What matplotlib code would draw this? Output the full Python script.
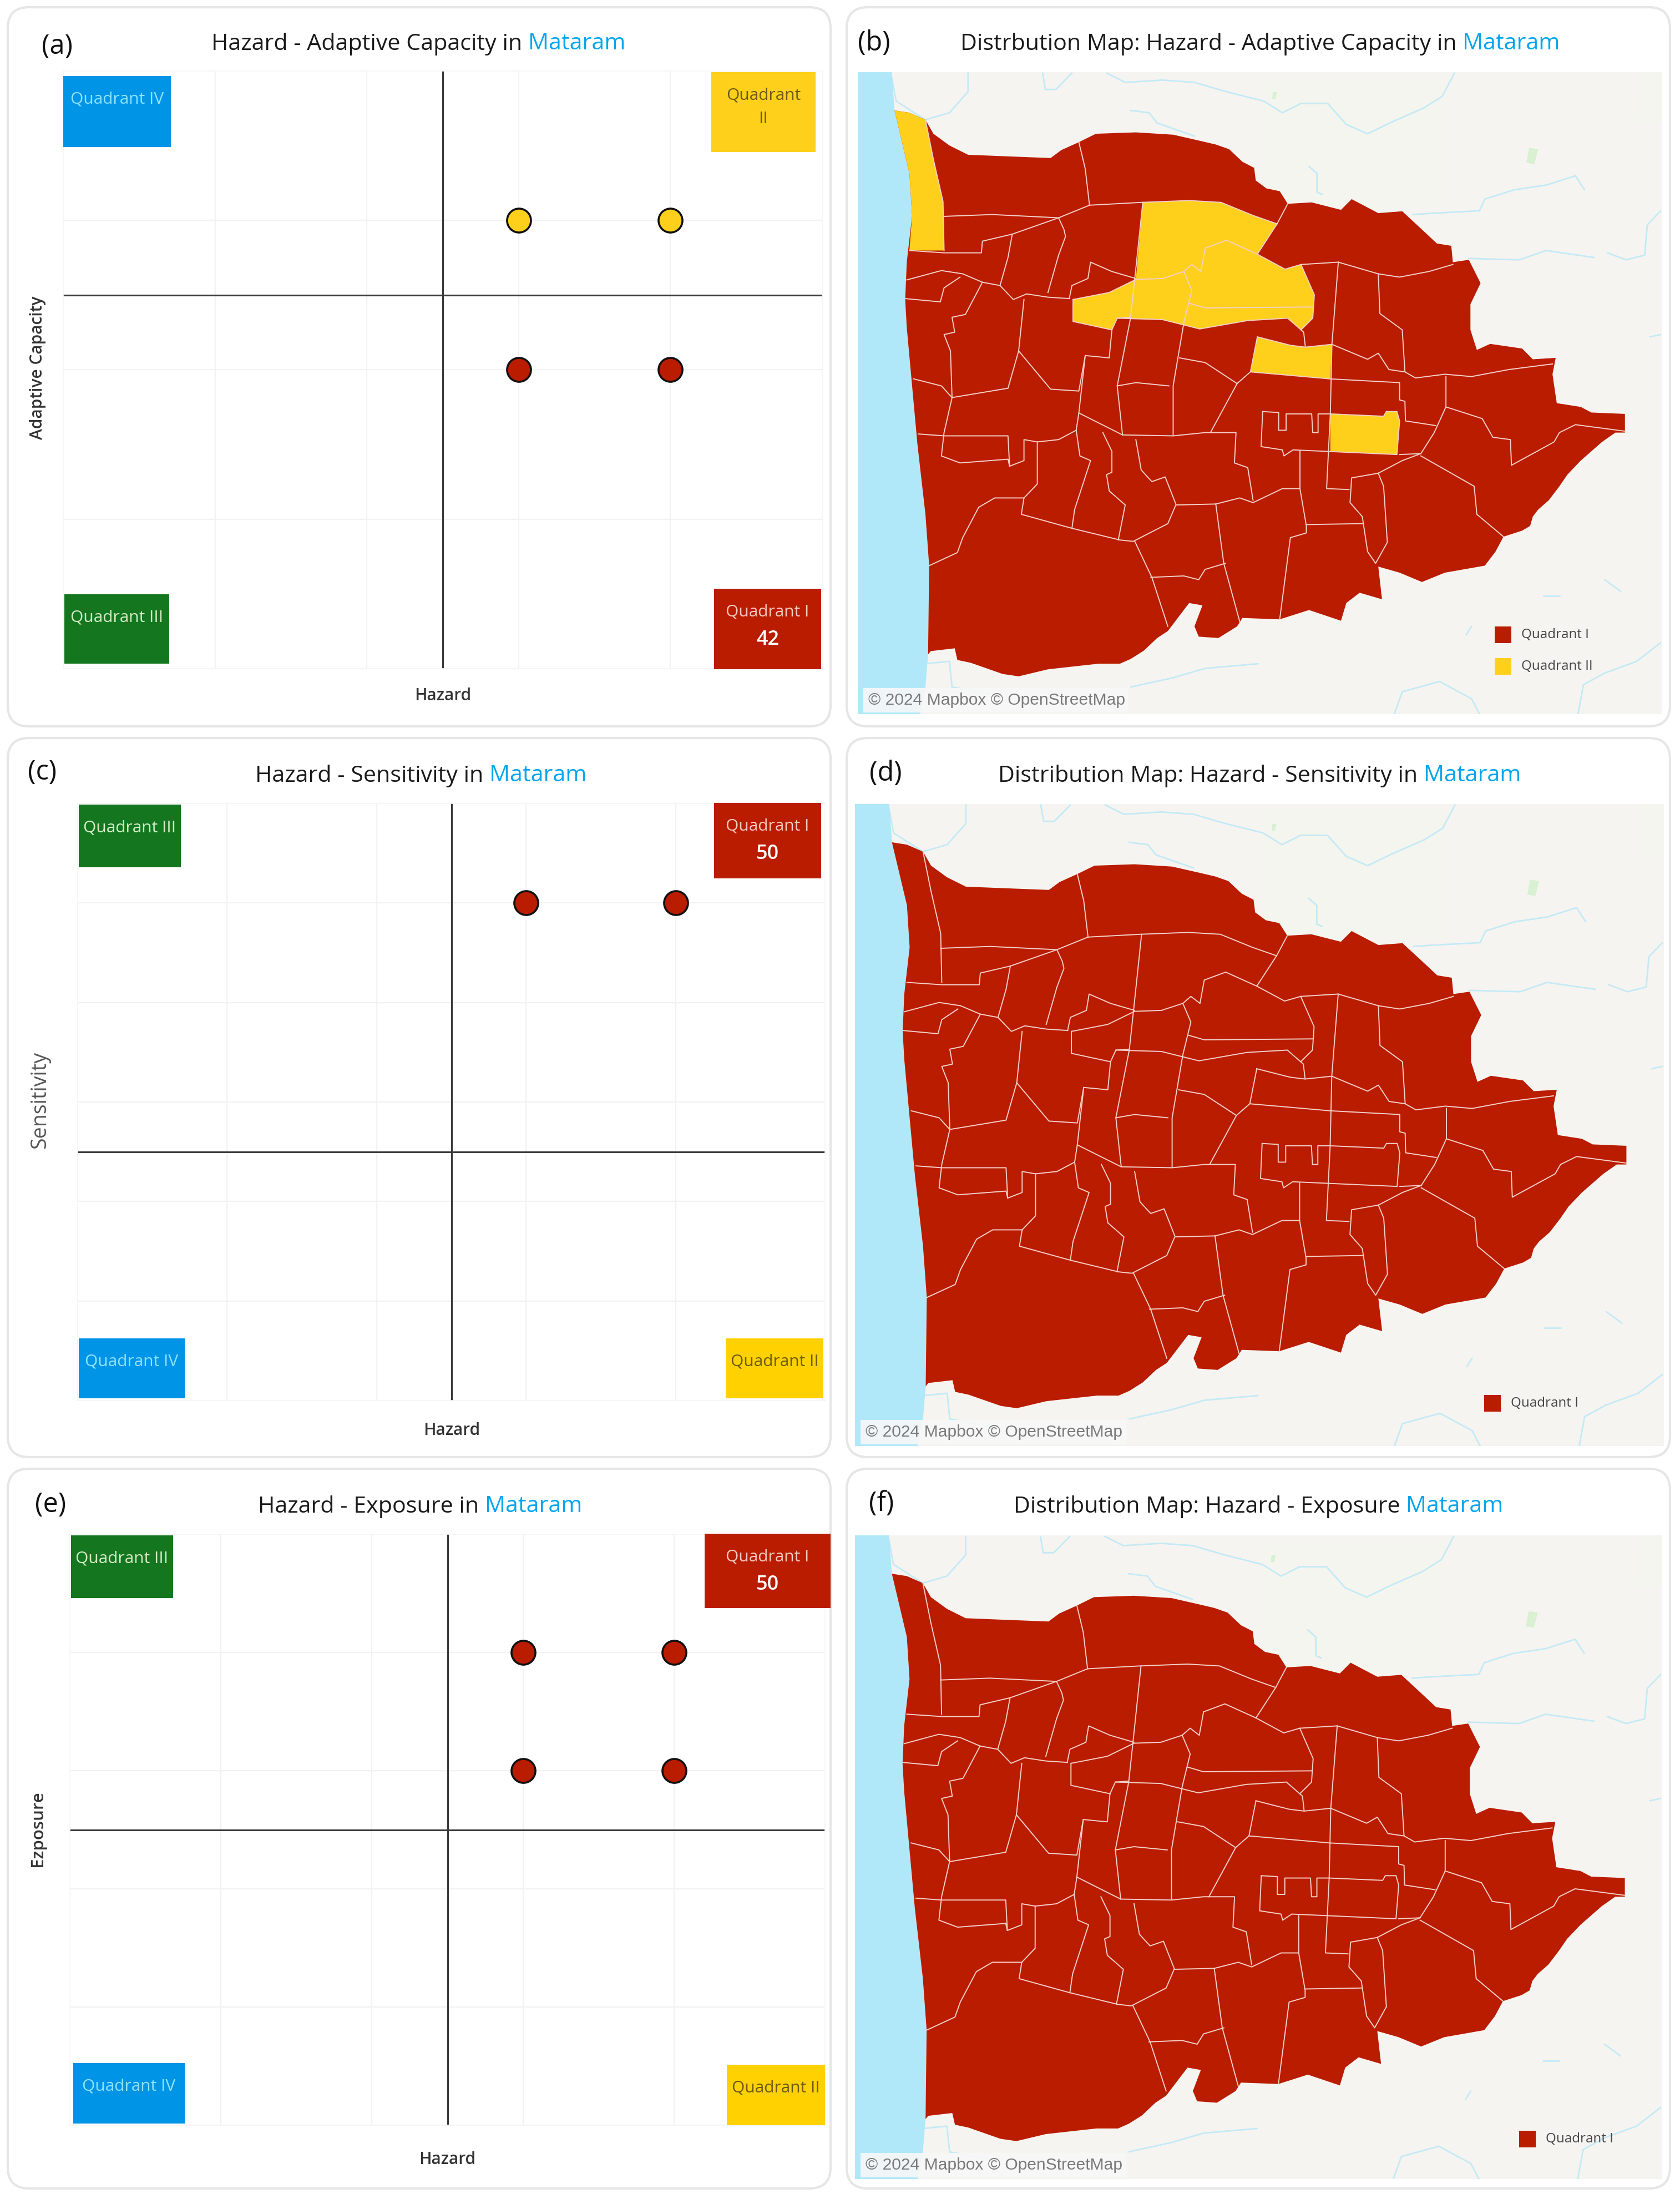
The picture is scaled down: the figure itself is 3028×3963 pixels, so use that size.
# plot.py - quadrant scatter plots and distribution maps for Mataram

import matplotlib
matplotlib.use('Agg')
import matplotlib.pyplot as plt
from matplotlib.patches import FancyBboxPatch, Polygon, Rectangle

plt.rcParams['font.family'] = ['Open Sans', 'DejaVu Sans']

# --------- DATA ----------

RED = '#BA1C00'
YELLOW = '#FED01C'
GOLD = '#FFD100'
BLUE = '#0094E6'
GREEN = '#14761E'

# hazard, y-value and colour of the points in the three scatter panels
points_a = [(3, 3, YELLOW), (4, 3, YELLOW), (3, 2, RED), (4, 2, RED)]
points_c = [(3, 5, RED), (4, 5, RED)]
points_e = [(3, 4, RED), (4, 4, RED), (3, 3, RED), (4, 3, RED)]

# map shapes (pixel-like map coordinates)
sea = [(28,153),(92,153),(97,235),(125,370),(130,460),(120,560),(117,640),(120,700),(140,950),
       (155,1100),(162,1210),(160,1400),(155,1470),(145,1528),(28,1528)]

outline = [(97,235),(125,240),(155,255),(170,285),(200,310),(235,330),(300,333),(390,337),(410,320),
           (443,303),(475,285),(550,282),(620,287),(670,300),(700,308),(725,318),(750,345),(772,358),(775,385),
           (795,402),(820,408),(835,435),(880,432),(935,448),(955,425),(1005,455),(1050,451),(1085,488),
           (1115,520),(1142,525),(1145,560),(1175,555),(1197,605),(1178,650),(1178,705),(1190,748),
           (1215,735),(1275,745),(1295,768),(1338,765),(1332,800),(1340,862),(1385,870),(1405,882),
           (1468,885),(1468,925),(1450,925),(1425,945),(1405,965),(1385,985),(1360,1015),(1345,1040),
           (1325,1070),(1305,1090),(1295,1105),(1290,1125),(1275,1135),(1240,1148),(1225,1180),(1205,1210),
           (1165,1218),(1130,1225),(1087,1245),(1045,1225),(1005,1212),(1012,1282),(970,1268),(945,1290),
           (935,1328),(875,1305),(820,1325),(750,1322),(740,1340),(705,1365),(668,1362),(660,1340),
           (675,1295),(650,1290),(610,1350),(590,1365),(565,1392),(540,1410),(520,1420),(480,1420),(440,1425),
           (385,1432),(330,1447),(300,1442),(270,1430),(240,1418),(215,1412),(210,1387),(165,1393),(160,1400),
           (162,1210),(155,1100),(140,950),(120,700),(117,640),(120,560),(130,460),(125,370)]

yellow_areas = [
    [(97,235),(125,240),(155,255),(170,340),(188,430),(190,535),(125,535),(130,460),(125,370)],
    [(563,432),(650,428),(710,432),(770,460),(815,478),(778,543),(830,575),(860,565),(885,630),
     (882,680),(860,705),(835,680),(760,685),(670,703),(600,683),(515,680),(505,705),(432,687),
     (432,640),(500,625),(550,597)],
    [(778,720),(840,738),(868,742),(918,736),(915,810),(765,795)],
    [(915,885),(1015,890),(1020,880),(1040,880),(1045,900),(1040,972),(915,965)],
]

borders = [
    [(155,255),(170,340),(188,430),(190,535)],
    [(443,303),(455,360),(463,438)],
    [(125,535),(190,540),(260,540),(262,515),(318,500),(405,465),(415,490),(418,505),(405,545),(385,625)],
    [(188,462),(280,458),(405,465),(463,438),(560,432),(650,428),(710,432),(770,460),(815,478)],
    [(835,435),(815,478),(778,543)],
    [(318,500),(310,550),(295,610),(320,640),(345,628),(385,635),(425,638)],
    [(120,598),(185,578),(225,585),(262,603),(295,610)],
    [(117,638),(183,645),(190,615),(220,592)],
    [(262,603),(230,672),(205,678),(210,710),(190,715),(202,750),(205,850),(190,925),(185,975),(220,990),
     (310,982),(313,997),(340,985),(340,940),(365,945),(405,940),(438,920)],
    [(142,928),(190,932),(310,932),(313,997)],
    [(340,640),(330,750),(310,830),(205,850)],
    [(133,810),(185,825),(205,850)],
    [(330,750),(390,832),(443,836),(455,760),(500,765),(505,705),(515,680),(540,678)],
    [(432,640),(432,687),(505,705)],
    [(425,638),(430,610),(460,595),(465,560),(505,580),(550,595)],
    [(432,640),(500,625),(550,597),(600,595),(640,580),(655,565),(672,580),(680,530),(720,513),(778,543),
     (830,575),(860,565),(885,630),(882,680),(860,705)],
    [(563,432),(548,595),(540,680),(515,825),(525,930)],
    [(640,580),(655,620),(640,690),(620,825),(620,930)],
    [(650,648),(680,658),(882,656)],
    [(515,680),(600,683),(670,703),(760,685),(835,680),(865,710),(868,740)],
    [(515,825),(550,818),(612,825)],
    [(632,765),(680,775),(740,820)],
    [(765,795),(740,820),(690,925)],
    [(778,720),(765,795),(915,810),(1045,818),(1045,855),(1055,858),(1056,900),(1113,910)],
    [(778,720),(840,738),(868,742),(918,736),(985,768),(1005,755),(1025,790),(1055,795)],
    [(860,565),(930,560),(1005,585),(1045,592),(1100,580),(1145,565)],
    [(930,560),(918,736),(915,885),(908,1045),(950,1047)],
    [(1005,585),(1008,670),(1050,705),(1055,795),(1075,808),(1130,800),(1180,805),(1250,790),(1332,778)],
    [(1132,805),(1132,870),(1110,925),(1085,970),(1050,985),(1005,1012),(955,1022),(952,1075),(975,1105),
     (985,1180),(1000,1205),(1022,1160),(1015,1040),(1005,1012)],
    [(1132,870),(1200,895),(1220,935),(1253,940),(1255,995),(1335,945),(1345,925),(1375,908),(1468,922)],
    [(1085,975),(1185,1040),(1190,1100),(1240,1148)],
    [(443,883),(525,930),(620,932),(680,925),(738,925),(735,990),(760,1000),(770,1070)],
    [(438,920),(443,883),(455,760)],
    [(365,945),(365,1035),(340,1065),(335,1100),(430,1130),(520,1155),(545,1158),(610,1120),(625,1080),
     (700,1078),(745,1065),(770,1075),(825,1045),(858,1045),(858,965)],
    [(340,1065),(285,1065),(255,1085),(225,1150),(215,1182),(162,1210)],
    [(438,920),(445,975),(465,985),(435,1090),(430,1130)],
    [(488,925),(505,965),(505,1010),(495,1015),(500,1050),(530,1080),(517,1155)],
    [(550,940),(560,1005),(580,1030),(605,1020),(625,1078)],
    [(700,1078),(715,1205),(745,1330)],
    [(858,1045),(870,1125),(870,1140),(840,1150),(820,1325)],
    [(870,1122),(975,1120)],
    [(548,1158),(580,1235),(610,1340)],
    [(578,1235),(640,1232),(668,1240),(680,1218),(718,1205)],
    [(788,880),(785,955),(825,962),(828,975),(845,962),(1040,972),(1045,900),(1040,880),(1020,880),(1015,890),(915,885)],
    [(788,880),(818,882),(818,920),(832,920),(832,885),(880,885),(882,925),(892,925),(892,885),(915,885)],
    [(1045,972),(1085,970)],
]

rivers = [
    [(495,155),(530,175),(600,170),(660,175),(720,195),(790,215),(825,240),(860,220),(910,220),(945,265),
     (985,285),(1030,260),(1090,230),(1125,205),(1148,155)],
    [(235,155),(235,195),(200,240),(155,255),(100,215),(92,165)],
    [(375,155),(380,190),(400,190),(430,155)],
    [(540,235),(575,240),(590,262),(660,290)],
    [(875,355),(890,370),(890,410),(900,415)],
    [(1070,458),(1110,455),(1195,450),(1205,425),(1260,405),(1320,395),(1375,375),(1392,405)],
    [(1175,552),(1270,555),(1320,535),(1410,550)],
    [(1435,540),(1470,555),(1505,545),(1510,480),(1535,450)],
    [(1515,720),(1535,715)],
    [(540,1470),(620,1450),(680,1430),(780,1420)],
    [(1035,1528),(1050,1480),(1120,1458),(1180,1495),(1195,1528)],
    [(1380,1528),(1390,1465),(1430,1440),(1490,1415),(1535,1375)],
    [(155,1420),(200,1415),(205,1470),(300,1490)],
    [(1430,1240),(1460,1265)],
    [(1315,1275),(1345,1275)],
    [(1180,1340),(1170,1358)],
]

green_patches = [
    [(1288,315),(1305,318),(1298,350),(1283,347)],
    [(807,196),(815,195),(812,210),(806,210)],
]

pale_patches = [
    [(790,165),(1130,165),(1130,440),(790,440)],
    [(1490,155),(1535,155),(1535,265),(1485,265)],
]

# --------------------------

W, H = 3028, 3963
fh = plt.figure(figsize=(W/100, H/100), dpi=100, facecolor='white')


def px_axes(x0, y0, x1, y1, **kw):
    # axes from a rectangle given in figure pixels, origin top left
    return fh.add_axes([x0/W, 1-y1/H, (x1-x0)/W, (y1-y0)/H], **kw)


bg = px_axes(0, 0, W, H, zorder=0)
fg = px_axes(0, 0, W, H, zorder=5)
for a in (bg, fg):
    a.set_xlim(0, W)
    a.set_ylim(H, 0)
    a.axis('off')
fg.patch.set_alpha(0)

cards = [(14, 13, 1497, 1309), (1526, 13, 3010, 1309),
         (14, 1330, 1497, 2626), (1526, 1330, 3010, 2626),
         (14, 2647, 1497, 3944), (1526, 2647, 3010, 3944)]
for x0, y0, x1, y1 in cards:
    bg.add_patch(FancyBboxPatch((x0, y0), x1-x0, y1-y0, boxstyle='round,pad=0,rounding_size=38',
                                fc='white', ec='#E6E6E6', lw=3))


def title(xc, y, text, size=29.7):
    # black text followed by blue city name, centred as a whole
    r = fh.canvas.get_renderer()
    t1 = fg.text(0, y+3, text + ' ', fontsize=size, color='#1a1a1a', va='center', ha='left')
    t2 = fg.text(0, y+3, 'Mataram', fontsize=size, color='#00A5EC', va='center', ha='left')
    w1 = t1.get_window_extent(r).width
    w2 = t2.get_window_extent(r).width
    t1.set_x(xc-(w1+w2)/2)
    t2.set_x(xc-(w1+w2)/2+w1)


def scatter_panel(box, ymax, points, xlabel_pos, ylabel, ylabel_pos, ylabel_kw):
    ax = px_axes(*box, zorder=2)
    ax.set_xlim(0, 5)
    ax.set_ylim(0, ymax)
    ax.set_xticks(range(1, 5))
    ax.set_yticks(range(1, ymax))
    ax.tick_params(length=0, labelbottom=False, labelleft=False)
    ax.grid(color='#F2F2F2', lw=1.6)
    ax.set_axisbelow(True)
    for s in ax.spines.values():
        s.set_color('#F5F5F5')
        s.set_linewidth(1.2)
    ax.axvline(2.5, color='#3a3a3a', lw=2.2, zorder=2)
    ax.axhline(2.5, color='#3a3a3a', lw=2.2, zorder=2)
    for x, y, c in points:
        ax.plot([x], [y], 'o', ms=31, mfc=c, mec='#111111', mew=2.6, zorder=3, clip_on=False)
    fg.text(xlabel_pos[0], xlabel_pos[1], 'Hazard', fontsize=21.5, fontweight='semibold',
            color='#333333', ha='center', va='center')
    fg.text(ylabel_pos[0], ylabel_pos[1], ylabel, rotation=90,
            ha='center', va='center', **ylabel_kw)


def quad_box(x0, y0, x1, y1, c, lines, tc, count=None):
    fg.add_patch(Rectangle((x0, y0), x1-x0, y1-y0, fc=c, ec='none'))
    xc = (x0+x1)/2
    for i, s in enumerate(lines):
        fg.text(xc, y0+42+i*42, s, fontsize=21.5, color=tc, ha='center', va='center')
    if count is not None:
        fg.text(xc, y0+42+50, count, fontsize=26, color='white', fontweight='semibold',
                ha='center', va='center')


def map_panel(box, quad2=False):
    ax = px_axes(*box, zorder=2)
    ax.set_xlim(28, 1538)
    ax.set_ylim(1528, 153)
    ax.set_xticks([])
    ax.set_yticks([])
    ax.set_facecolor('#F6F4F0')
    for s in ax.spines.values():
        s.set_visible(False)
    for g in pale_patches:
        ax.add_patch(Polygon(g, fc='#F4F5EE', ec='none'))
    for g in green_patches:
        ax.add_patch(Polygon(g, fc='#D9F0D3', ec='none'))
    for r in rivers:
        ax.plot(*zip(*r), color='#C4EAF6', lw=2.0, solid_capstyle='round')
    ax.add_patch(Polygon(sea, fc='#B0E8FA', ec='none', zorder=2))
    ax.add_patch(Polygon(outline, fc=RED, ec='none', zorder=3))
    if quad2:
        for y in yellow_areas:
            ax.add_patch(Polygon(y, fc=YELLOW, ec='none', zorder=3))
    for b in borders:
        ax.plot(*zip(*b), color='#F3CFC7', lw=1.4, zorder=4, solid_joinstyle='round')
    ax.add_patch(Rectangle((38, 1472), 497, 53, fc='#F8F8F8', ec='none', alpha=0.9, zorder=5))
    ax.text(48, 1498, '\u00a9 2024 Mapbox \u00a9 OpenStreetMap', fontsize=21.6, color='#7a7a7a',
            family=['Liberation Sans'], va='center', ha='left', zorder=6)


def map_legend(x, y, label, c):
    fg.add_patch(Rectangle((x, y-15), 30, 30, fc=c, ec='none'))
    fg.text(x+48, y, label, fontsize=17.4, color='#444444', ha='left', va='center')


# panel letters
for lab, x, y in [('(a)', 75, 84), ('(b)', 1546, 78), ('(c)', 50, 1392),
                  ('(d)', 1567, 1394), ('(e)', 63, 2712), ('(f)', 1566, 2710)]:
    fg.text(x, y, lab, fontsize=35, color='#111111', ha='left', va='center')

# titles
title(754, 76, 'Hazard - Adaptive Capacity in')
title(2271, 76, 'Distrbution Map: Hazard - Adaptive Capacity in')
title(759, 1395, 'Hazard - Sensitivity in')
title(2270, 1395, 'Distribution Map: Hazard - Sensitivity in')
title(757, 2712, 'Hazard - Exposure in')
title(2268, 2712, 'Distribution Map: Hazard - Exposure')

# scatter panels
scatter_panel((114, 128, 1482, 1205), 4, points_a, (798, 1254), 'Adaptive Capacity', (68, 663),
              dict(color='#333333', fontweight='semibold', fontsize=21.5))
scatter_panel((140, 1448, 1487, 2524), 6, points_c, (814, 2578), 'Sensitivity', (72, 1982),
              dict(color='#555555', fontsize=27))
scatter_panel((126, 2765, 1487, 3830), 5, points_e, (806, 3892), 'Ezposure', (68, 3296),
              dict(color='#333333', fontweight='semibold', fontsize=22.5))

# quadrant boxes
OL = '#6b5a10'
quad_box(114, 137, 308, 265, BLUE, ['Quadrant IV'], '#8FE3FF')
quad_box(1282, 130, 1470, 274, YELLOW, ['Quadrant', 'II'], OL)
quad_box(116, 1071, 305, 1196, GREEN, ['Quadrant III'], '#D6EBC8')
quad_box(1287, 1061, 1480, 1206, RED, ['Quadrant I'], '#F7C9BE', count='42')

quad_box(142, 1450, 326, 1563, GREEN, ['Quadrant III'], '#D6EBC8')
quad_box(1287, 1447, 1480, 1583, RED, ['Quadrant I'], '#F7C9BE', count='50')
quad_box(142, 2412, 333, 2520, BLUE, ['Quadrant IV'], '#8FE3FF')
quad_box(1308, 2412, 1484, 2520, GOLD, ['Quadrant II'], OL)

quad_box(128, 2767, 312, 2880, GREEN, ['Quadrant III'], '#D6EBC8')
quad_box(1270, 2764, 1497, 2898, RED, ['Quadrant I'], '#F7C9BE', count='50')
quad_box(132, 3718, 333, 3827, BLUE, ['Quadrant IV'], '#8FE3FF')
quad_box(1310, 3721, 1487, 3830, GOLD, ['Quadrant II'], OL)

# maps
map_panel((1546, 130, 2996, 1287), quad2=True)
map_panel((1541, 1449, 2999, 2606))
map_panel((1541, 2767, 2996, 3927))

map_legend(2694, 1144, 'Quadrant I', RED)
map_legend(2694, 1201, 'Quadrant II', YELLOW)
map_legend(2675, 2529, 'Quadrant I', RED)
map_legend(2738, 3855, 'Quadrant I', RED)

fh.savefig('out.png', dpi=100)
